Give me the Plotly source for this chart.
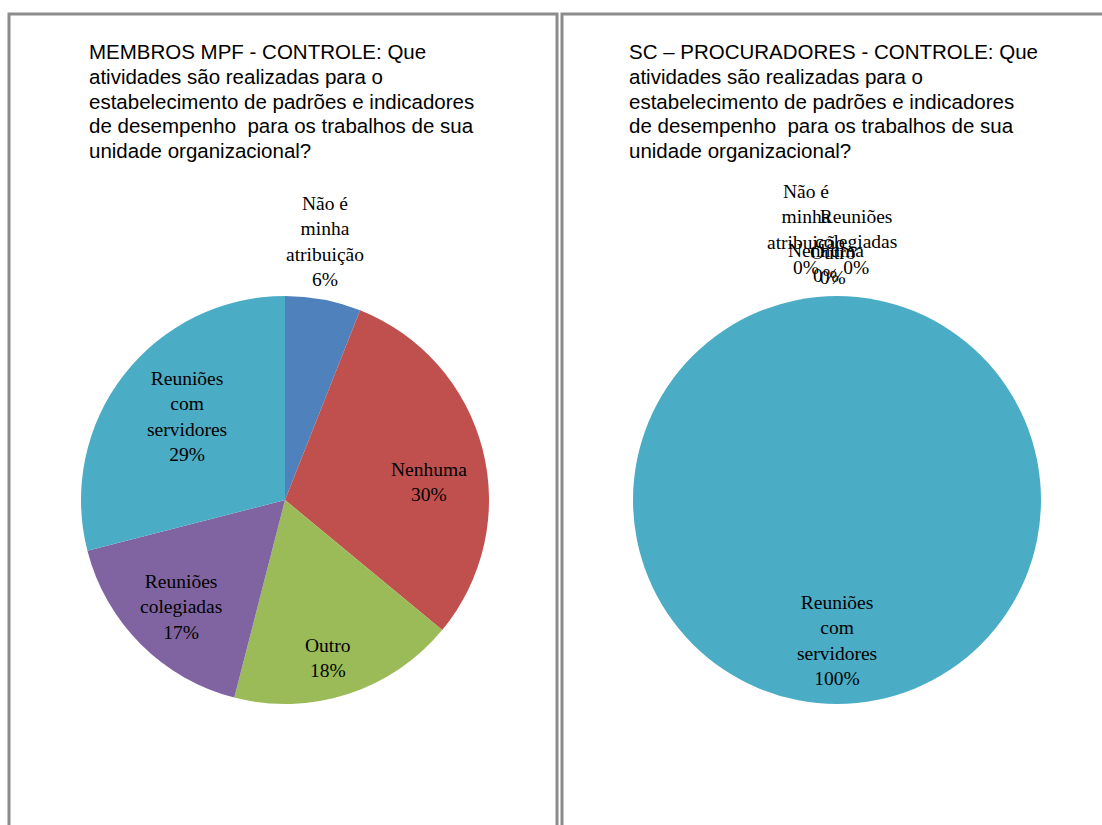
import math
import plotly.graph_objects as go

# --- data -------------------------------------------------------------
categories = [
    "Não é minha atribuição",
    "Nenhuma",
    "Outro",
    "Reuniões colegiadas",
    "Reuniões com servidores",
]
category_labels = [
    "Não é<br>minha<br>atribuição",
    "Nenhuma",
    "Outro",
    "Reuniões<br>colegiadas",
    "Reuniões<br>com<br>servidores",
]
membros_mpf = [6, 30, 18, 17, 29]
sc_procuradores = [0, 0, 0, 0, 100]

title_membros = [
    "MEMBROS MPF - CONTROLE: Que",
    "atividades são realizadas para o",
    "estabelecimento de padrões e indicadores",
    "de desempenho  para os trabalhos de sua",
    "unidade organizacional?",
]
title_sc = [
    "SC – PROCURADORES - CONTROLE: Que",
    "atividades são realizadas para o",
    "estabelecimento de padrões e indicadores",
    "de desempenho  para os trabalhos de sua",
    "unidade organizacional?",
]

colors = ["#4F81BD", "#C0504D", "#9BBB59", "#8064A2", "#4BACC6"]

# --- layout geometry --------------------------------------------------
W, H = 1102, 825
LABEL_FONT = dict(family="Liberation Serif", size=19.5, color="#000000")
TITLE_FONT = dict(family="Liberation Sans", size=20.5, color="#000000")
TITLE_TOP = 52       # centre of first title line (px)
TITLE_STEP = 24.5    # title line pitch (px)
INSIDE_R = 0.72      # inside labels sit at this fraction of the radius
OUTSIDE_GAP = 8      # gap between pie edge and outside labels (px)


def px_x(x):
    return x / W


def px_y(y):
    return 1 - y / H


def domain_from_box(cx, cy, r):
    return dict(x=[px_x(cx - r), px_x(cx + r)], y=[px_y(cy + r), px_y(cy - r)])


pies = [
    dict(values=membros_mpf, cx=285, cy=500, r=204,
         title=title_membros, title_x=88,
         outside=[True, False, False, False, False],
         shift=[(0, 0), (2, -19), (-2, -18), (0, -3), (18, -7)]),
    dict(values=sc_procuradores, cx=837, cy=500, r=204,
         title=title_sc, title_x=628,
         outside=[True, True, True, True, False],
         shift=[(-31, 8), (-11, 0), (-4, -2), (19, 8), (0, 6)]),
]

fig = go.Figure()
annotations = []

for p in pies:
    fig.add_trace(go.Pie(
        labels=categories,
        values=p["values"],
        marker=dict(colors=colors, line=dict(width=0)),
        sort=False,
        direction="clockwise",
        rotation=0,
        textinfo="none",
        hoverinfo="label+percent",
        showlegend=False,
        domain=domain_from_box(p["cx"], p["cy"], p["r"]),
    ))

    # data labels placed from the cumulative slice angles
    total = sum(p["values"])
    cum = 0.0
    for i, v in enumerate(p["values"]):
        frac = v / total
        mid = (cum + frac / 2) * 2 * math.pi
        cum += frac
        pct = "%d%%" % round(frac * 100)
        text = category_labels[i] + "<br>" + pct
        dx, dy = p["shift"][i]
        if p["outside"][i]:
            rr = p["r"] + OUTSIDE_GAP
            yanchor = "bottom"
        else:
            rr = p["r"] * INSIDE_R
            yanchor = "middle"
        x = p["cx"] + rr * math.sin(mid)
        y = p["cy"] - rr * math.cos(mid)
        annotations.append(dict(
            x=px_x(x), y=px_y(y), xref="paper", yref="paper",
            text=text, showarrow=False, font=LABEL_FONT,
            xanchor="center", yanchor=yanchor, align="center",
            xshift=dx, yshift=dy,
        ))

    # chart title, one line at a time
    for k, line in enumerate(p["title"]):
        annotations.append(dict(
            x=px_x(p["title_x"]), y=px_y(TITLE_TOP + k * TITLE_STEP),
            xref="paper", yref="paper",
            text=line, showarrow=False, font=TITLE_FONT,
            xanchor="left", yanchor="middle", align="left",
            borderpad=0,
        ))

# chart-area frames
frame = dict(color="#8c8c8c", width=3)
shapes = [
    dict(type="rect", xref="paper", yref="paper",
         x0=px_x(9), x1=px_x(557), y0=px_y(860), y1=px_y(14), line=frame),
    dict(type="rect", xref="paper", yref="paper",
         x0=px_x(562), x1=px_x(1140), y0=px_y(860), y1=px_y(14), line=frame),
]

fig.update_layout(
    width=W, height=H,
    margin=dict(l=0, r=0, t=0, b=0),
    paper_bgcolor="white",
    plot_bgcolor="white",
    annotations=annotations,
    shapes=shapes,
)

fig.write_html("out.html")
